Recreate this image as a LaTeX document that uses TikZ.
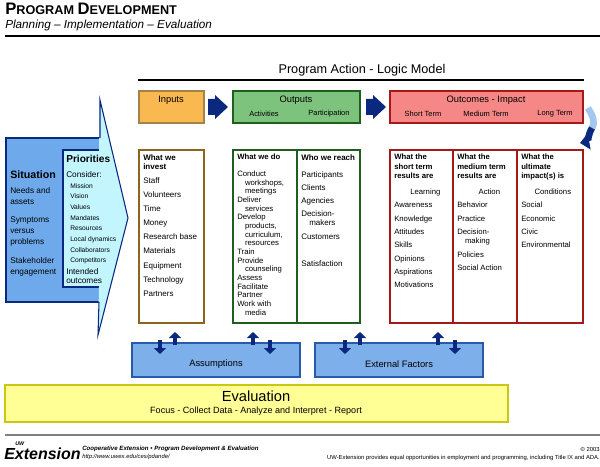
\documentclass[tikz,border=0pt]{standalone}
\usepackage{fontspec}
\setmainfont{Liberation Sans}
\usetikzlibrary{fit, arrows.meta}
\definecolor{navy}{RGB}{10, 40, 125}
\definecolor{sitblue}{RGB}{110, 170, 235}
\definecolor{pricyan}{RGB}{195, 245, 255}
\definecolor{inorange}{RGB}{250, 185, 80}
\definecolor{inbrown}{RGB}{140, 100, 30}
\definecolor{outgreen}{RGB}{125, 195, 125}
\definecolor{outdark}{RGB}{30, 95, 30}
\definecolor{ocred}{RGB}{245, 135, 135}
\definecolor{ocdark}{RGB}{165, 25, 25}
\definecolor{asmblue}{RGB}{125, 175, 235}
\definecolor{asmedge}{RGB}{40, 90, 170}
\definecolor{evalyellow}{RGB}{255, 255, 150}
\definecolor{evaledge}{RGB}{200, 200, 20}
\newcommand{\sz}[1]{\fontsize{#1}{#1}\selectfont}

\begin{document}
\begin{tikzpicture}[x=0.75pt, y=-0.75pt,
    frame/.style={fit={#1}, inner sep=0pt, thick},
    txt/.style={anchor=north west, inner sep=0pt, align=left, font=\fontsize{6}{6.8}\selectfont},
    blockarr/.style={fill=navy},
    vert/.style={-{Triangle[width=9pt, length=4.5pt]}, line width=3.5pt, navy, shorten >=0pt}]
    \useasboundingbox (0,0) rectangle (600,467);

    % Header
    \node[anchor=north west, inner sep=0pt, font=\bfseries] (title) at (5,3)
        {\fontsize{12.5}{13}\selectfont P\fontsize{9.5}{13}\selectfont ROGRAM \fontsize{12.5}{13}\selectfont D\fontsize{9.5}{13}\selectfont EVELOPMENT};
    \node[anchor=north west, inner sep=0pt, font=\itshape\fontsize{8.8}{10}\selectfont] (sub) at (5,20) {Planning -- Implementation -- Evaluation};
    \draw[line width=2pt] (5,36) -- (600,36);

    \node[font=\fontsize{9.5}{11}\selectfont] (plm) at (362,70) {Program Action - Logic Model};
    \draw[line width=1.5pt] (138,80) -- (584,80);

    % Header boxes
    \node[frame={(139,91) (204,123)}, draw=inbrown!80, fill=inorange] (inp) {};
    \node[frame={(233,91) (360,123)}, draw=outdark, fill=outgreen] (outp) {};
    \node[frame={(390,91) (583,123)}, draw=ocdark, fill=ocred] (outc) {};
    \node[font=\sz{7}] at (171,100) {Inputs};
    \node[font=\sz{7}] at (296,100) {Outputs};
    \node[font=\sz{5.6}] at (264,114) {Activities};
    \node[font=\sz{5.6}] at (329,114) {Participation};
    \node[font=\sz{7}] at (486,100) {Outcomes - Impact};
    \node[font=\sz{5.6}] at (423,114) {Short Term};
    \node[font=\sz{5.6}] at (486,114) {Medium Term};
    \node[font=\sz{5.6}] at (555,114) {Long Term};
    \fill[blockarr] (208,99) -- (215,99) -- (215,95) -- (228,107) -- (215,119) -- (215,115) -- (208,115) -- cycle;
    \fill[blockarr] (366,99) -- (373,99) -- (373,95) -- (386,107) -- (373,119) -- (373,115) -- (366,115) -- cycle;
    % turn arrow
    \draw[line width=5pt, asmblue!70] (588,108) to[out=-60, in=60] (592,128);
    \draw[line width=5pt, navy, -{Triangle[width=12pt, length=7pt]}] (592,128) to[out=240, in=10] (580,143);

    % Situation and priorities
    \fill[sitblue, draw=navy, thick] (6,138) rectangle (100,302);
    \filldraw[fill=pricyan, draw=navy, thick] (100,287) -- (63,287) -- (63,150) -- (100,150);
    \fill[pricyan] (99,150) -- (100,100) -- (128,218) -- (98,335) -- (99,287) -- cycle;
    \draw[navy, thick] (100,138) -- (100,100) -- (128,218) -- (98,335) -- (99,302);
    \node[txt, font=\bfseries\sz{8}] (sit) at (10,171) {Situation};
    \node[txt, font=\fontsize{6.2}{8.3}\selectfont] (sitl) at (10,187)
        {Needs and\\assets\\[5.5pt]Symptoms\\versus\\problems\\[5.5pt]Stakeholder\\engagement};
    \node[txt, font=\bfseries\sz{7.6}] (pri) at (66,155) {Priorities};
    \node[txt, font=\fontsize{6.2}{7}\selectfont] (con) at (66,171) {Consider:};
    \node[txt, font=\fontsize{5}{8}\selectfont] (pril) at (70,183)
        {Mission\\Vision\\Values\\Mandates\\Resources\\Local dynamics\\Collaborators\\Competitors};
    \node[txt, font=\fontsize{6.2}{6.6}\selectfont] (intd) at (66,268) {Intended\\outcomes};

    % Columns
    \node[frame={(139,150) (204,323)}, draw=inbrown] (invcol) {};
    \node[frame={(233,150) (360,323)}, draw=outdark] (outcol) {};
    \draw[outdark, thick] (297,150) -- (297,323);
    \node[frame={(390,150) (583,323)}, draw=ocdark] (occol) {};
    \draw[ocdark, thick] (453,150) -- (453,323);
    \draw[ocdark, thick] (517,150) -- (517,323);

    \node[txt] (inv) at (143,154) {\textbf{What we}\\\textbf{invest}\\[3.8pt]Staff\\[3.8pt]Volunteers\\[3.8pt]Time\\[3.8pt]Money\\[3.8pt]Research base\\[3.8pt]Materials\\[3.8pt]Equipment\\[3.8pt]Technology\\[3.8pt]Partners};
    \node[txt, font=\fontsize{5.8}{6.5}\selectfont] (act) at (237,154) {\textbf{What we do}\\[6pt]Conduct\\\quad workshops,\\\quad meetings\\Deliver\\\quad services\\Develop\\\quad products,\\\quad curriculum,\\\quad resources\\Train\\Provide\\\quad counseling\\Assess\\Facilitate\\Partner\\Work with\\\quad media};
    \node[txt] (par) at (301,154) {\textbf{Who we reach}\\[6pt]Participants\\[3pt]Clients\\[3pt]Agencies\\[3pt]Decision-\\\quad makers\\[4pt]Customers\\[13pt]Satisfaction};
    \node[txt, font=\fontsize{5.8}{7}\selectfont] (st) at (394,154) {\textbf{What the}\\\textbf{short term}\\\textbf{results are}\\[5pt]\hspace{12pt}Learning\\[3pt]Awareness\\[3pt]Knowledge\\[3pt]Attitudes\\[3pt]Skills\\[3pt]Opinions\\[3pt]Aspirations\\[3pt]Motivations};
    \node[txt, font=\fontsize{5.8}{7}\selectfont] (mt) at (457,154) {\textbf{What the}\\\textbf{medium term}\\\textbf{results are}\\[5pt]\hspace{16pt}Action\\[3pt]Behavior\\[3pt]Practice\\[3pt]Decision-\\\quad making\\[3pt]Policies\\[3pt]Social Action};
    \node[txt, font=\fontsize{5.8}{7}\selectfont] (lt) at (521,154) {\textbf{What the}\\\textbf{ultimate}\\\textbf{impact(s) is}\\[5pt]\hspace{10pt}Conditions\\[3pt]Social\\[3pt]Economic\\[3pt]Civic\\[3pt]Environmental};

    % Assumptions and external factors
    \node[frame={(132,343) (300,377)}, draw=asmedge, fill=asmblue] (asm) {};
    \node[frame={(315,343) (483,377)}, draw=asmedge, fill=asmblue] (ext) {};
    \node[font=\sz{7}] at (asm.center) [yshift=-3pt] {Assumptions};
    \node[font=\sz{7}] at (ext.center) [yshift=-3pt] {External Factors};
    \foreach \n/\xa/\xb in {asm/175/160, asm/253/270, ext/360/345, ext/438/455} {
        \draw[vert] (\xa,345) -- (\xa,332);
        \draw[vert] (\xb,340) -- (\xb,354);
    }

    % Evaluation
    \node[frame={(5,385) (508,422)}, draw=evaledge, fill=evalyellow] (eval) {};
    \node[font=\sz{11}] at (256,396) {Evaluation};
    \node[font=\sz{6.8}] at (256,411) {Focus - Collect Data - Analyze and Interpret - Report};

    % Footer
    \draw[gray, line width=1.2pt] (5,435) -- (600,435);
    \node[anchor=west, inner sep=0pt, font=\bfseries\itshape\sz{12}] (logo) at (4,454) {Extension};
    \node[anchor=west, inner sep=0pt, font=\bfseries\itshape\sz{4}] at (15,444) {UW};
    \node[anchor=west, inner sep=0pt, font=\bfseries\itshape\sz{4.6}] at (82,449) {Cooperative Extension \textbullet\ Program Development \& Evaluation};
    \node[anchor=west, inner sep=0pt, font=\itshape\sz{4.4}] at (82,457) {http://www.uwex.edu/ces/pdande/};
    \node[anchor=east, inner sep=0pt, font=\sz{4.4}] at (600,449) {\textcopyright\ 2003};
    \node[anchor=east, inner sep=0pt, font=\sz{4.4}] at (600,458) {UW-Extension provides equal opportunities in employment and programming, including Title IX and ADA.};
\end{tikzpicture}
\end{document}
